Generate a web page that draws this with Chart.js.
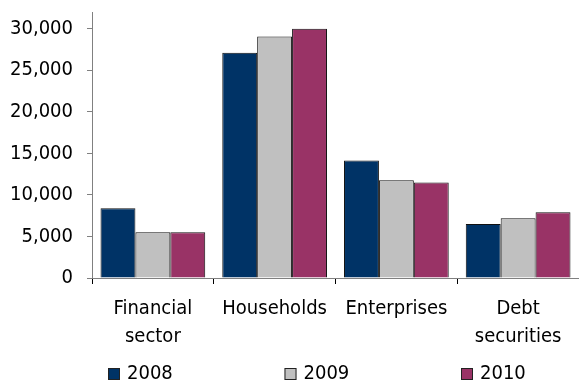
<!DOCTYPE html>
<html>
<head>
<meta charset="utf-8">
<script src="https://cdn.jsdelivr.net/npm/chart.js@4"></script>
<style>
  html, body { margin: 0; padding: 0; background: #fff; }
  #wrap { width: 579px; height: 382px; position: relative; }
</style>
</head>
<body>
<div id="wrap"><canvas id="chart"></canvas></div>
<script>
// data
const categories = [["Financial", "sector"], "Households", "Enterprises", ["Debt", "securities"]];
const years = ["2008", "2009", "2010"];
const values2008 = [8400, 27100, 14150, 6500];
const values2009 = [5500, 29050, 11750, 7200];
const values2010 = [5500, 30000, 11500, 7900];
const yTicks = [0, 5000, 10000, 15000, 20000, 25000, 30000];
const colors = ["#003366", "#c0c0c0", "#993366"];

const FONT = "'DejaVu Sans Condensed', 'DejaVu Sans', sans-serif";

/* legend drawn along the bottom, spread across the width */
const bottomLegend = {
  id: "bottomLegend",
  afterDraw(chart) {
    const ctx = chart.ctx;
    ctx.save();
    ctx.font = "20px " + FONT;
    ctx.textBaseline = "alphabetic";
    chart.data.datasets.forEach((ds, i) => {
      const x = 108 + i * 176.5;
      ctx.fillStyle = ds.backgroundColor;
      ctx.fillRect(x, 368, 12, 12);
      ctx.strokeStyle = "#222";
      ctx.lineWidth = 1;
      ctx.strokeRect(x + 0.5, 368.5, 11, 11);
      ctx.fillStyle = "#000";
      ctx.fillText(ds.label, x + 19, 379);
    });
    ctx.restore();
  }
};

new Chart(document.getElementById("chart"), {
  type: "bar",
  data: {
    labels: categories,
    datasets: [
      { label: years[0], data: values2008, backgroundColor: colors[0] },
      { label: years[1], data: values2009, backgroundColor: colors[1] },
      { label: years[2], data: values2010, backgroundColor: colors[2] }
    ]
  },
  options: {
    responsive: true,
    maintainAspectRatio: false,
    animation: false,
    layout: { padding: { top: 12, right: 0, left: 0, bottom: 35 } },
    datasets: {
      bar: {
        categoryPercentage: 0.86,
        barPercentage: 1,
        borderWidth: 1,
        borderColor: "#111"
      }
    },
    plugins: {
      legend: { display: false },
      tooltip: { enabled: false }
    },
    scales: {
      x: {
        grid: {
          offset: true,
          drawOnChartArea: false,
          drawTicks: true,
          tickLength: 6,
          color: "#000"
        },
        border: { color: "#808080", width: 1 },
        ticks: {
          color: "#000",
          padding: 11,
          maxRotation: 0,
          autoSkip: false,
          font: { family: FONT, size: 20, lineHeight: 1.4 }
        },
        afterFit: s => { s.height = 69; s.paddingLeft = 0; s.paddingRight = 0; }
      },
      y: {
        min: 0,
        max: 32000,
        grid: {
          drawOnChartArea: false,
          tickLength: 5,
          color: "#808080"
        },
        border: { color: "#808080", width: 1 },
        ticks: {
          stepSize: 5000,
          color: "#000",
          padding: 14,
          font: { family: FONT, size: 20 },
          callback: v => v.toLocaleString("en-US")
        },
        afterBuildTicks: s => { s.ticks = yTicks.map(v => ({ value: v })); },
        afterFit: s => { s.width = 92; s.paddingTop = 0; s.paddingBottom = 0; }
      }
    }
  },
  plugins: [bottomLegend]
});
</script>
</body>
</html>
